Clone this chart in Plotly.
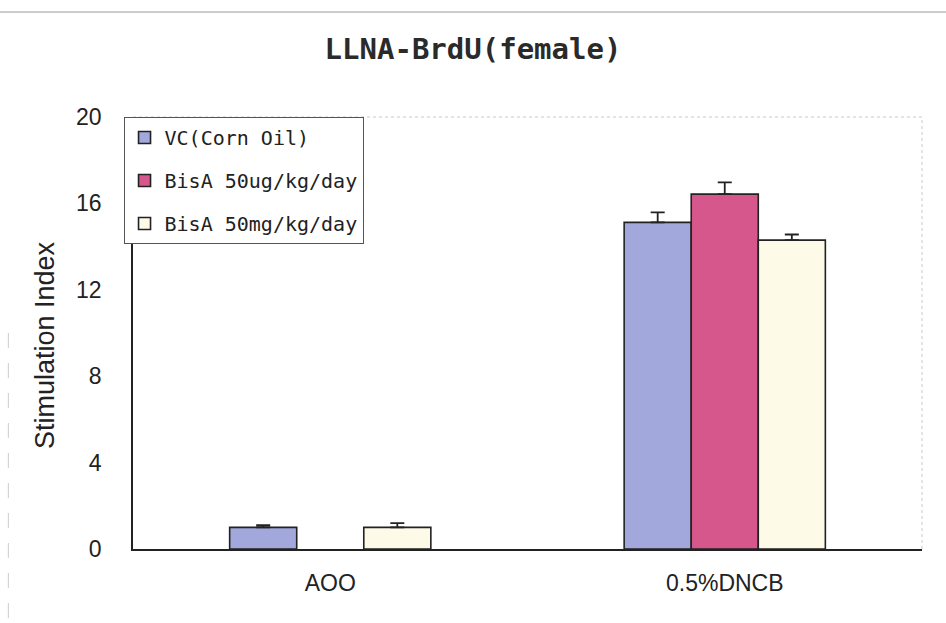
import plotly.graph_objects as go

categories = ["AOO", "0.5%DNCB"]
series_names = ["VC(Corn Oil)", "BisA 50ug/kg/day", "BisA 50mg/kg/day"]
vc_values = [1.0, 15.12]
vc_errors = [0.1, 0.46]
bisa_ug_values = [None, 16.43]
bisa_ug_errors = [None, 0.54]
bisa_mg_values = [1.0, 14.3]
bisa_mg_errors = [0.2, 0.26]
y_ticks = [0, 4, 8, 12, 16, 20]

colors = ["#a2a7dc", "#d6578b", "#fdfbe8"]
sans = "Liberation Sans, Arial, sans-serif"
mono = "DejaVu Sans Mono, monospace"

fig = go.Figure()
for i, (name, vals, errs, col) in enumerate(zip(
    series_names,
    [vc_values, bisa_ug_values, bisa_mg_values],
    [vc_errors, bisa_ug_errors, bisa_mg_errors],
    colors,
)):
    fig.add_trace(go.Bar(
        x=categories, y=vals, name=name, legendgroup=f"g{i}",
        marker=dict(color=col, line=dict(color="#222222", width=1.6)),
        error_y=dict(type="data", array=errs, arrayminus=[0] * len(errs),
                     symmetric=False, color="#222222", thickness=1.8, width=7),
    ))

# light frame on the top and right sides of the plotting area
fig.add_shape(type="line", xref="paper", yref="paper", x0=0, x1=1, y0=1, y1=1,
              line=dict(color="#c8c8c8", width=1, dash="dot"), layer="below")
fig.add_shape(type="line", xref="paper", yref="paper", x0=1, x1=1, y0=0, y1=1,
              line=dict(color="#c8c8c8", width=1, dash="dot"), layer="below")
# page rule across the top and faint margin rule on the left
fig.add_shape(type="line", xref="paper", yref="paper", x0=-0.17, x1=1.04,
              y0=1.243, y1=1.243, line=dict(color="#9a9a9a", width=1))
fig.add_shape(type="line", xref="paper", yref="paper", x0=-0.158, x1=-0.158,
              y0=0.5, y1=-0.17, line=dict(color="#cccccc", width=1, dash="longdash"))

# y-axis title placed as a rotated annotation
fig.add_annotation(text="Stimulation Index", xref="paper", yref="paper",
                   x=-0.1115, y=0.472, xanchor="center", yanchor="middle",
                   textangle=-90, showarrow=False,
                   font=dict(size=27, family=sans, color="#222222"))

fig.update_layout(
    width=946, height=623,
    margin=dict(l=133, r=24, t=117, b=74),
    paper_bgcolor="white", plot_bgcolor="white",
    title=dict(text="<b>LLNA-BrdU(female)</b>", x=0.5, xanchor="center",
               y=0.922, yanchor="middle",
               font=dict(family=mono, size=29, color="#2a2a2a")),
    barmode="group", bargap=0.49, bargroupgap=0,
    font=dict(family=sans, color="#222222"),
    xaxis=dict(showline=True, linecolor="#222222", linewidth=1.5,
               ticks="", tickfont=dict(size=23, family=sans),
               ticklabelstandoff=13, showgrid=False),
    yaxis=dict(range=[0, 20], tickvals=y_ticks, showline=True,
               linecolor="#222222", linewidth=1.5, ticks="",
               tickfont=dict(size=23, family=sans),
               ticklabelstandoff=25, showgrid=False, zeroline=False),
    legend=dict(x=-0.012, y=1.0, xanchor="left", yanchor="top",
                bgcolor="white", bordercolor="#555555", borderwidth=1,
                font=dict(size=20, family=mono, color="#222222"),
                itemwidth=30, tracegroupgap=14),
    showlegend=True,
)

fig.write_html("out.html")
